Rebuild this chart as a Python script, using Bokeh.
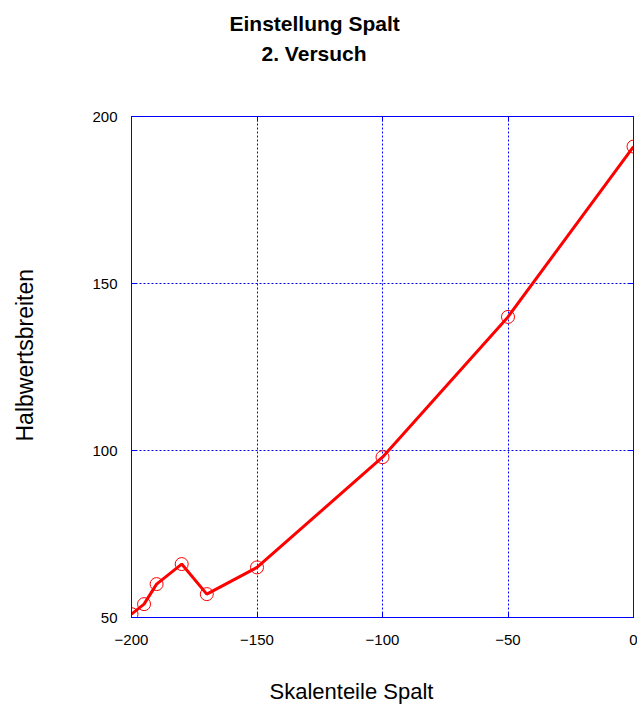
from bokeh.plotting import figure
from bokeh.models import Range1d, LinearAxis, FixedTicker, Grid, Title
from bokeh.embed import file_html
from bokeh.resources import INLINE

# Gap setting (scale divisions) vs. measured half-widths
skalenteile = [-200, -195, -190, -180, -170, -150, -100, -50, 0]
halbwertsbreiten = [51, 54, 60, 66, 57, 65, 98, 140, 191]

x_ticks = [-200, -150, -100, -50, 0]
y_ticks = [50, 100, 150, 200]

FONT = "Liberation Sans"
BLUE = "#0000ff"
RED = "#ff0000"

LEFT, RIGHT, TOP, BOTTOM = 131, 4, 116, 89
W, H = 637, 706

p = figure(
    width=W, height=H,
    x_range=Range1d(-200, 0), y_range=Range1d(50, 200),
    output_backend="svg", toolbar_location=None,
    x_axis_location=None, y_axis_location=None,
    min_border_left=LEFT, min_border_right=RIGHT,
    min_border_top=TOP, min_border_bottom=BOTTOM,
)
p.background_fill_color = "white"
p.border_fill_color = "white"
p.outline_line_color = BLUE
p.outline_line_width = 1
p.center = []


def make_axis(ticks, labels=True, standoff=0):
    ax = LinearAxis(ticker=FixedTicker(ticks=ticks))
    ax.axis_line_color = BLUE
    ax.axis_line_width = 1
    ax.major_tick_line_color = BLUE
    ax.major_tick_in = 5
    ax.major_tick_out = 0
    ax.minor_tick_line_color = None
    ax.major_label_text_font = FONT
    ax.major_label_text_font_size = "15px"
    ax.major_label_text_color = "black"
    ax.major_label_standoff = standoff
    if not labels:
        ax.major_label_text_font_size = "0px"
        ax.major_label_text_alpha = 0
    return ax


def spacer_axis(ticks, gap):
    """Invisible axis whose (undrawn) outward ticks reserve `gap` pixels."""
    ax = make_axis(ticks, labels=False)
    ax.axis_line_color = None
    ax.major_tick_line_color = None
    ax.major_tick_in = 0
    ax.major_tick_out = gap
    return ax


def title(text, size, bold=False, offset=0, valign="bottom", standoff=0):
    return Title(text=text, align="left", offset=offset,
                 vertical_align=valign, standoff=standoff,
                 text_font=FONT, text_font_size=size, text_color="black",
                 text_font_style="bold" if bold else "normal")


# axes on all four sides; only bottom and left carry labels
p.add_layout(make_axis(x_ticks, standoff=17), "below")
p.add_layout(make_axis(y_ticks, standoff=14), "left")
p.add_layout(make_axis(x_ticks, labels=False), "above")
p.add_layout(make_axis(y_ticks, labels=False), "right")

# headings (inner one added first)
p.add_layout(spacer_axis(x_ticks, 52), "above")
p.add_layout(title("2. Versuch", "21px", bold=True, offset=130), "above")
p.add_layout(title("Einstellung Spalt", "21px", bold=True, offset=98,
                   standoff=9), "above")

# axis titles
p.add_layout(spacer_axis(x_ticks, 31), "below")
p.add_layout(title("Skalenteile Spalt", "22px", offset=138, valign="top"),
             "below")
p.add_layout(spacer_axis(y_ticks, 52), "left")
p.add_layout(title("Halbwertsbreiten", "23px", offset=176), "left")

for dim, ticks in ((0, x_ticks), (1, y_ticks)):
    p.add_layout(Grid(dimension=dim, ticker=FixedTicker(ticks=ticks),
                      grid_line_color=BLUE, grid_line_dash="2 2",
                      grid_line_width=1))

p.line(skalenteile, halbwertsbreiten, line_color=RED, line_width=3)
p.scatter(skalenteile, halbwertsbreiten, marker="circle", size=13,
          fill_color=None, line_color=RED, line_width=1)

open("out.html", "w").write(file_html(p, INLINE))
